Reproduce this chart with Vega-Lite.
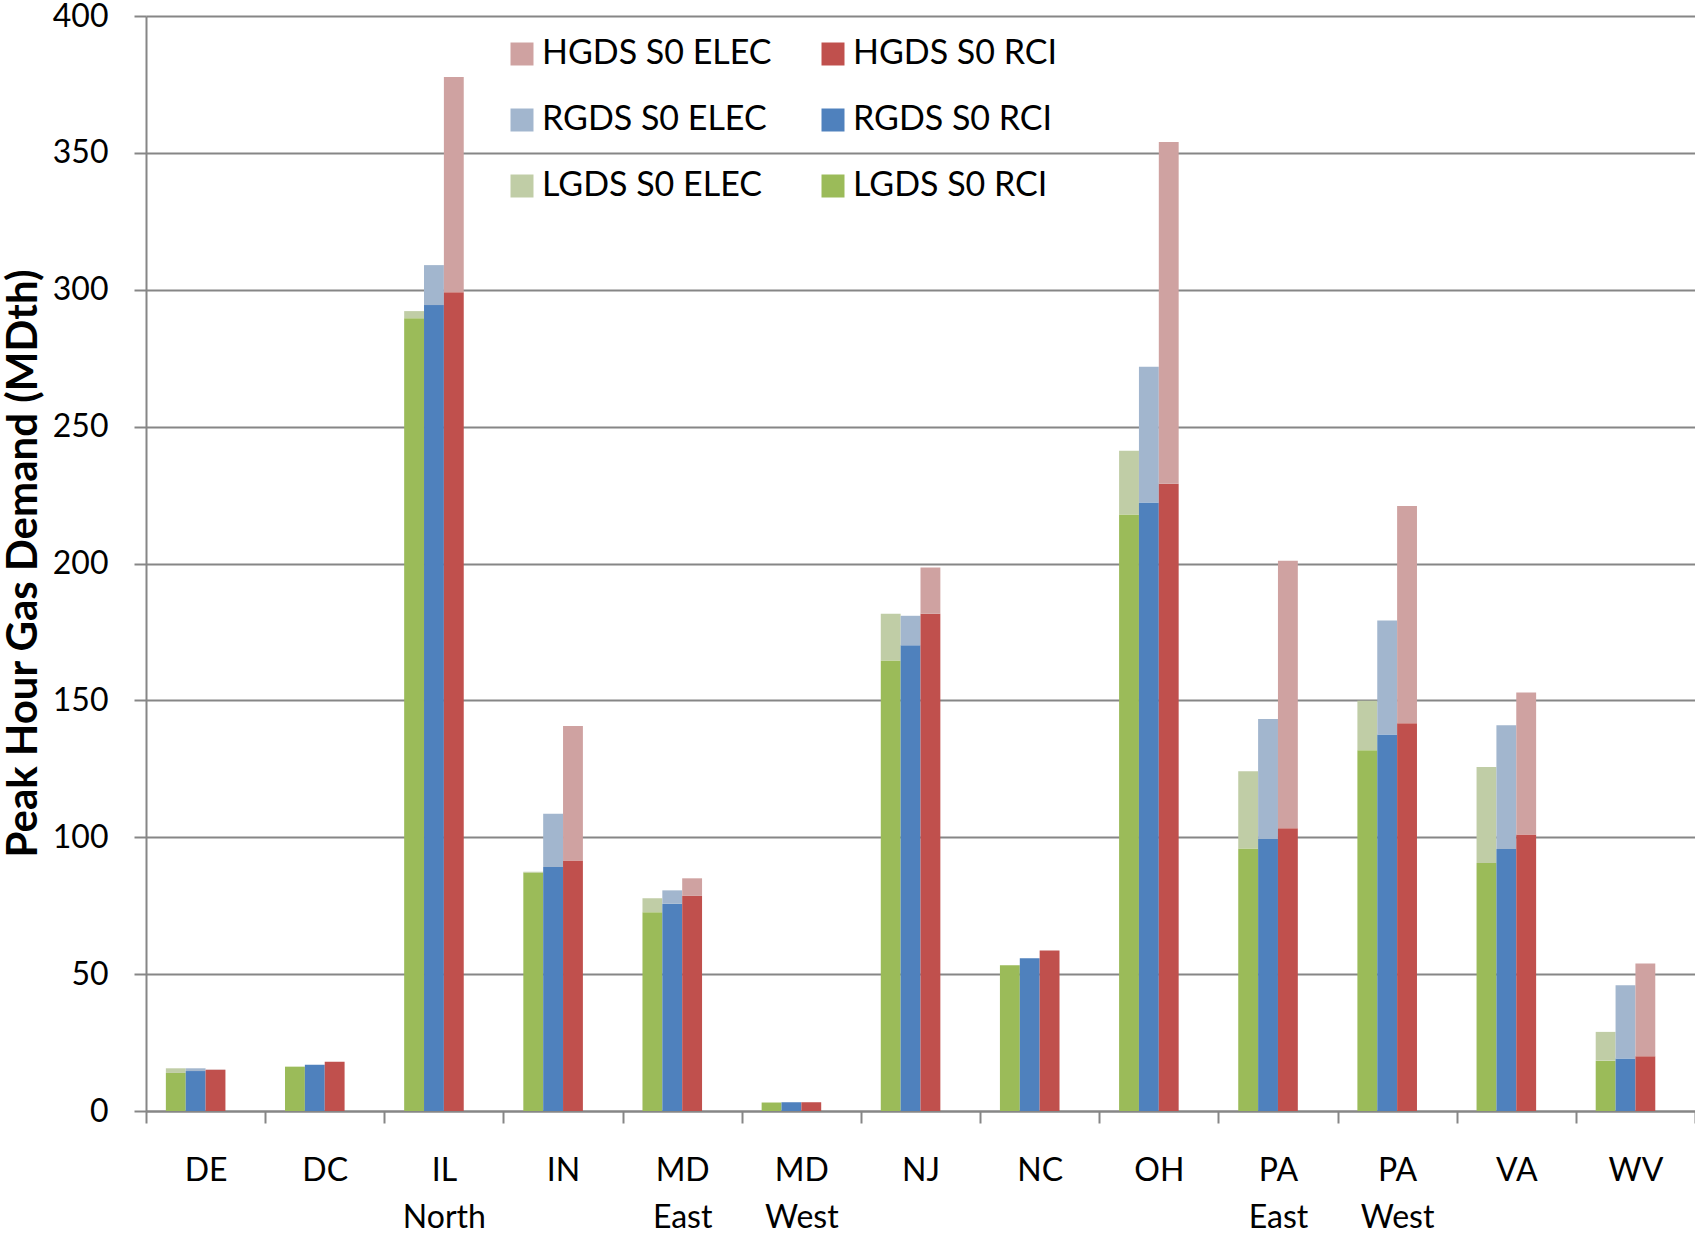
{
  "$schema": "https://vega.github.io/schema/vega-lite/v6.json",
  "width": 1549,
  "height": 1095,
  "autosize": {"type": "none"},
  "padding": {"left": 146, "top": 16, "right": 0, "bottom": 126},
  "background": "white",
  "config": {
    "font": "Lato",
    "view": {"stroke": null},
    "axis": {"labelFont": "Lato", "titleFont": "Lato"},
    "legend": {"labelFont": "Lato"}
  },
  "data": {
    "values": [
      {"state": "DE", "scen": "LGDS", "type": "RCI", "series": "LGDS S0 RCI", "value": 13.9},
      {"state": "DE", "scen": "LGDS", "type": "ELEC", "series": "LGDS S0 ELEC", "value": 1.7},
      {"state": "DE", "scen": "RGDS", "type": "RCI", "series": "RGDS S0 RCI", "value": 14.6},
      {"state": "DE", "scen": "RGDS", "type": "ELEC", "series": "RGDS S0 ELEC", "value": 1.0},
      {"state": "DE", "scen": "HGDS", "type": "RCI", "series": "HGDS S0 RCI", "value": 15.0},
      {"state": "DE", "scen": "HGDS", "type": "ELEC", "series": "HGDS S0 ELEC", "value": 0.2},

      {"state": "DC", "scen": "LGDS", "type": "RCI", "series": "LGDS S0 RCI", "value": 16.2},
      {"state": "DC", "scen": "LGDS", "type": "ELEC", "series": "LGDS S0 ELEC", "value": 0},
      {"state": "DC", "scen": "RGDS", "type": "RCI", "series": "RGDS S0 RCI", "value": 16.9},
      {"state": "DC", "scen": "RGDS", "type": "ELEC", "series": "RGDS S0 ELEC", "value": 0},
      {"state": "DC", "scen": "HGDS", "type": "RCI", "series": "HGDS S0 RCI", "value": 18.0},
      {"state": "DC", "scen": "HGDS", "type": "ELEC", "series": "HGDS S0 ELEC", "value": 0},

      {"state": "IL North", "scen": "LGDS", "type": "RCI", "series": "LGDS S0 RCI", "value": 289.6},
      {"state": "IL North", "scen": "LGDS", "type": "ELEC", "series": "LGDS S0 ELEC", "value": 2.6},
      {"state": "IL North", "scen": "RGDS", "type": "RCI", "series": "RGDS S0 RCI", "value": 294.4},
      {"state": "IL North", "scen": "RGDS", "type": "ELEC", "series": "RGDS S0 ELEC", "value": 14.6},
      {"state": "IL North", "scen": "HGDS", "type": "RCI", "series": "HGDS S0 RCI", "value": 299.1},
      {"state": "IL North", "scen": "HGDS", "type": "ELEC", "series": "HGDS S0 ELEC", "value": 78.6},

      {"state": "IN", "scen": "LGDS", "type": "RCI", "series": "LGDS S0 RCI", "value": 87.1},
      {"state": "IN", "scen": "LGDS", "type": "ELEC", "series": "LGDS S0 ELEC", "value": 0.3},
      {"state": "IN", "scen": "RGDS", "type": "RCI", "series": "RGDS S0 RCI", "value": 89.1},
      {"state": "IN", "scen": "RGDS", "type": "ELEC", "series": "RGDS S0 ELEC", "value": 19.5},
      {"state": "IN", "scen": "HGDS", "type": "RCI", "series": "HGDS S0 RCI", "value": 91.5},
      {"state": "IN", "scen": "HGDS", "type": "ELEC", "series": "HGDS S0 ELEC", "value": 49.1},

      {"state": "MD East", "scen": "LGDS", "type": "RCI", "series": "LGDS S0 RCI", "value": 72.6},
      {"state": "MD East", "scen": "LGDS", "type": "ELEC", "series": "LGDS S0 ELEC", "value": 5.1},
      {"state": "MD East", "scen": "RGDS", "type": "RCI", "series": "RGDS S0 RCI", "value": 75.7},
      {"state": "MD East", "scen": "RGDS", "type": "ELEC", "series": "RGDS S0 ELEC", "value": 4.9},
      {"state": "MD East", "scen": "HGDS", "type": "RCI", "series": "HGDS S0 RCI", "value": 78.6},
      {"state": "MD East", "scen": "HGDS", "type": "ELEC", "series": "HGDS S0 ELEC", "value": 6.4},

      {"state": "MD West", "scen": "LGDS", "type": "RCI", "series": "LGDS S0 RCI", "value": 3.1},
      {"state": "MD West", "scen": "LGDS", "type": "ELEC", "series": "LGDS S0 ELEC", "value": 0},
      {"state": "MD West", "scen": "RGDS", "type": "RCI", "series": "RGDS S0 RCI", "value": 3.2},
      {"state": "MD West", "scen": "RGDS", "type": "ELEC", "series": "RGDS S0 ELEC", "value": 0},
      {"state": "MD West", "scen": "HGDS", "type": "RCI", "series": "HGDS S0 RCI", "value": 3.2},
      {"state": "MD West", "scen": "HGDS", "type": "ELEC", "series": "HGDS S0 ELEC", "value": 0},

      {"state": "NJ", "scen": "LGDS", "type": "RCI", "series": "LGDS S0 RCI", "value": 164.6},
      {"state": "NJ", "scen": "LGDS", "type": "ELEC", "series": "LGDS S0 ELEC", "value": 17.0},
      {"state": "NJ", "scen": "RGDS", "type": "RCI", "series": "RGDS S0 RCI", "value": 170.1},
      {"state": "NJ", "scen": "RGDS", "type": "ELEC", "series": "RGDS S0 ELEC", "value": 10.8},
      {"state": "NJ", "scen": "HGDS", "type": "RCI", "series": "HGDS S0 RCI", "value": 181.6},
      {"state": "NJ", "scen": "HGDS", "type": "ELEC", "series": "HGDS S0 ELEC", "value": 16.9},

      {"state": "NC", "scen": "LGDS", "type": "RCI", "series": "LGDS S0 RCI", "value": 53.2},
      {"state": "NC", "scen": "LGDS", "type": "ELEC", "series": "LGDS S0 ELEC", "value": 0},
      {"state": "NC", "scen": "RGDS", "type": "RCI", "series": "RGDS S0 RCI", "value": 55.8},
      {"state": "NC", "scen": "RGDS", "type": "ELEC", "series": "RGDS S0 ELEC", "value": 0},
      {"state": "NC", "scen": "HGDS", "type": "RCI", "series": "HGDS S0 RCI", "value": 58.6},
      {"state": "NC", "scen": "HGDS", "type": "ELEC", "series": "HGDS S0 ELEC", "value": 0},

      {"state": "OH", "scen": "LGDS", "type": "RCI", "series": "LGDS S0 RCI", "value": 217.9},
      {"state": "OH", "scen": "LGDS", "type": "ELEC", "series": "LGDS S0 ELEC", "value": 23.3},
      {"state": "OH", "scen": "RGDS", "type": "RCI", "series": "RGDS S0 RCI", "value": 222.3},
      {"state": "OH", "scen": "RGDS", "type": "ELEC", "series": "RGDS S0 ELEC", "value": 49.6},
      {"state": "OH", "scen": "HGDS", "type": "RCI", "series": "HGDS S0 RCI", "value": 229.1},
      {"state": "OH", "scen": "HGDS", "type": "ELEC", "series": "HGDS S0 ELEC", "value": 124.9},

      {"state": "PA East", "scen": "LGDS", "type": "RCI", "series": "LGDS S0 RCI", "value": 95.9},
      {"state": "PA East", "scen": "LGDS", "type": "ELEC", "series": "LGDS S0 ELEC", "value": 28.2},
      {"state": "PA East", "scen": "RGDS", "type": "RCI", "series": "RGDS S0 RCI", "value": 99.4},
      {"state": "PA East", "scen": "RGDS", "type": "ELEC", "series": "RGDS S0 ELEC", "value": 43.8},
      {"state": "PA East", "scen": "HGDS", "type": "RCI", "series": "HGDS S0 RCI", "value": 103.3},
      {"state": "PA East", "scen": "HGDS", "type": "ELEC", "series": "HGDS S0 ELEC", "value": 97.7},

      {"state": "PA West", "scen": "LGDS", "type": "RCI", "series": "LGDS S0 RCI", "value": 131.8},
      {"state": "PA West", "scen": "LGDS", "type": "ELEC", "series": "LGDS S0 ELEC", "value": 18.1},
      {"state": "PA West", "scen": "RGDS", "type": "RCI", "series": "RGDS S0 RCI", "value": 137.5},
      {"state": "PA West", "scen": "RGDS", "type": "ELEC", "series": "RGDS S0 ELEC", "value": 41.7},
      {"state": "PA West", "scen": "HGDS", "type": "RCI", "series": "HGDS S0 RCI", "value": 141.6},
      {"state": "PA West", "scen": "HGDS", "type": "ELEC", "series": "HGDS S0 ELEC", "value": 79.4},

      {"state": "VA", "scen": "LGDS", "type": "RCI", "series": "LGDS S0 RCI", "value": 90.6},
      {"state": "VA", "scen": "LGDS", "type": "ELEC", "series": "LGDS S0 ELEC", "value": 35.1},
      {"state": "VA", "scen": "RGDS", "type": "RCI", "series": "RGDS S0 RCI", "value": 95.7},
      {"state": "VA", "scen": "RGDS", "type": "ELEC", "series": "RGDS S0 ELEC", "value": 45.2},
      {"state": "VA", "scen": "HGDS", "type": "RCI", "series": "HGDS S0 RCI", "value": 101.0},
      {"state": "VA", "scen": "HGDS", "type": "ELEC", "series": "HGDS S0 ELEC", "value": 51.9},

      {"state": "WV", "scen": "LGDS", "type": "RCI", "series": "LGDS S0 RCI", "value": 18.4},
      {"state": "WV", "scen": "LGDS", "type": "ELEC", "series": "LGDS S0 ELEC", "value": 10.5},
      {"state": "WV", "scen": "RGDS", "type": "RCI", "series": "RGDS S0 RCI", "value": 19.2},
      {"state": "WV", "scen": "RGDS", "type": "ELEC", "series": "RGDS S0 ELEC", "value": 26.7},
      {"state": "WV", "scen": "HGDS", "type": "RCI", "series": "HGDS S0 RCI", "value": 20.0},
      {"state": "WV", "scen": "HGDS", "type": "ELEC", "series": "HGDS S0 ELEC", "value": 33.9}
    ]
  },
  "mark": {"type": "bar", "strokeWidth": 0},
  "encoding": {
    "x": {
      "field": "state",
      "type": "nominal",
      "sort": ["DE", "DC", "IL North", "IN", "MD East", "MD West", "NJ", "NC", "OH", "PA East", "PA West", "VA", "WV"],
      "scale": {"paddingInner": 0, "paddingOuter": 0},
      "axis": {
        "title": null,
        "labelAngle": 0,
        "labelExpr": "split(datum.label, ' ')",
        "labelFontSize": 32,
        "labelColor": "black",
        "labelPadding": 32,
        "labelLineHeight": 47,
        "labelBaseline": "top",
        "tickBand": "extent",
        "tickSize": 12,
        "tickColor": "#868686",
        "tickWidth": 2,
        "domainColor": "#868686",
        "domainWidth": 2,
        "grid": false
      }
    },
    "xOffset": {
      "field": "scen",
      "type": "nominal",
      "scale": {"domain": ["LGDS", "RGDS", "HGDS", "blank"], "paddingInner": 0, "paddingOuter": 1}
    },
    "y": {
      "field": "value",
      "type": "quantitative",
      "stack": "zero",
      "scale": {"domain": [0, 400], "nice": false},
      "axis": {
        "title": "Peak Hour Gas Demand (MDth)",
        "titleFontSize": 42,
        "titleFontWeight": "bold",
        "titleColor": "black",
        "titleAngle": -90,
        "titleX": -110,
        "titleY": 547,
        "titleBaseline": "alphabetic",
        "titleAlign": "center",
        "values": [0, 50, 100, 150, 200, 250, 300, 350, 400],
        "labelFontSize": 32,
        "labelColor": "black",
        "labelPadding": 26,
        "tickSize": 12,
        "tickColor": "#868686",
        "tickWidth": 2,
        "domainColor": "#868686",
        "domainWidth": 2,
        "gridColor": "#868686",
        "gridWidth": 2
      }
    },
    "color": {
      "field": "series",
      "type": "nominal",
      "scale": {
        "domain": ["HGDS S0 ELEC", "HGDS S0 RCI", "RGDS S0 ELEC", "RGDS S0 RCI", "LGDS S0 ELEC", "LGDS S0 RCI"],
        "range": ["#CFA2A1", "#C0504D", "#A2B6CE", "#4F81BD", "#C0CDA6", "#9BBB59"]
      },
      "legend": {
        "title": null,
        "orient": "none",
        "legendX": 359,
        "legendY": 21,
        "columns": 2,
        "direction": "horizontal",
        "symbolType": "square",
        "symbolSize": 529,
        "symbolStrokeWidth": 0,
        "labelFontSize": 34,
        "labelColor": "black",
        "labelOffset": 3,
        "rowPadding": 32,
        "columnPadding": 44,
        "labelLimit": 400
      }
    },
    "order": {"field": "type", "sort": "descending"}
  }
}
